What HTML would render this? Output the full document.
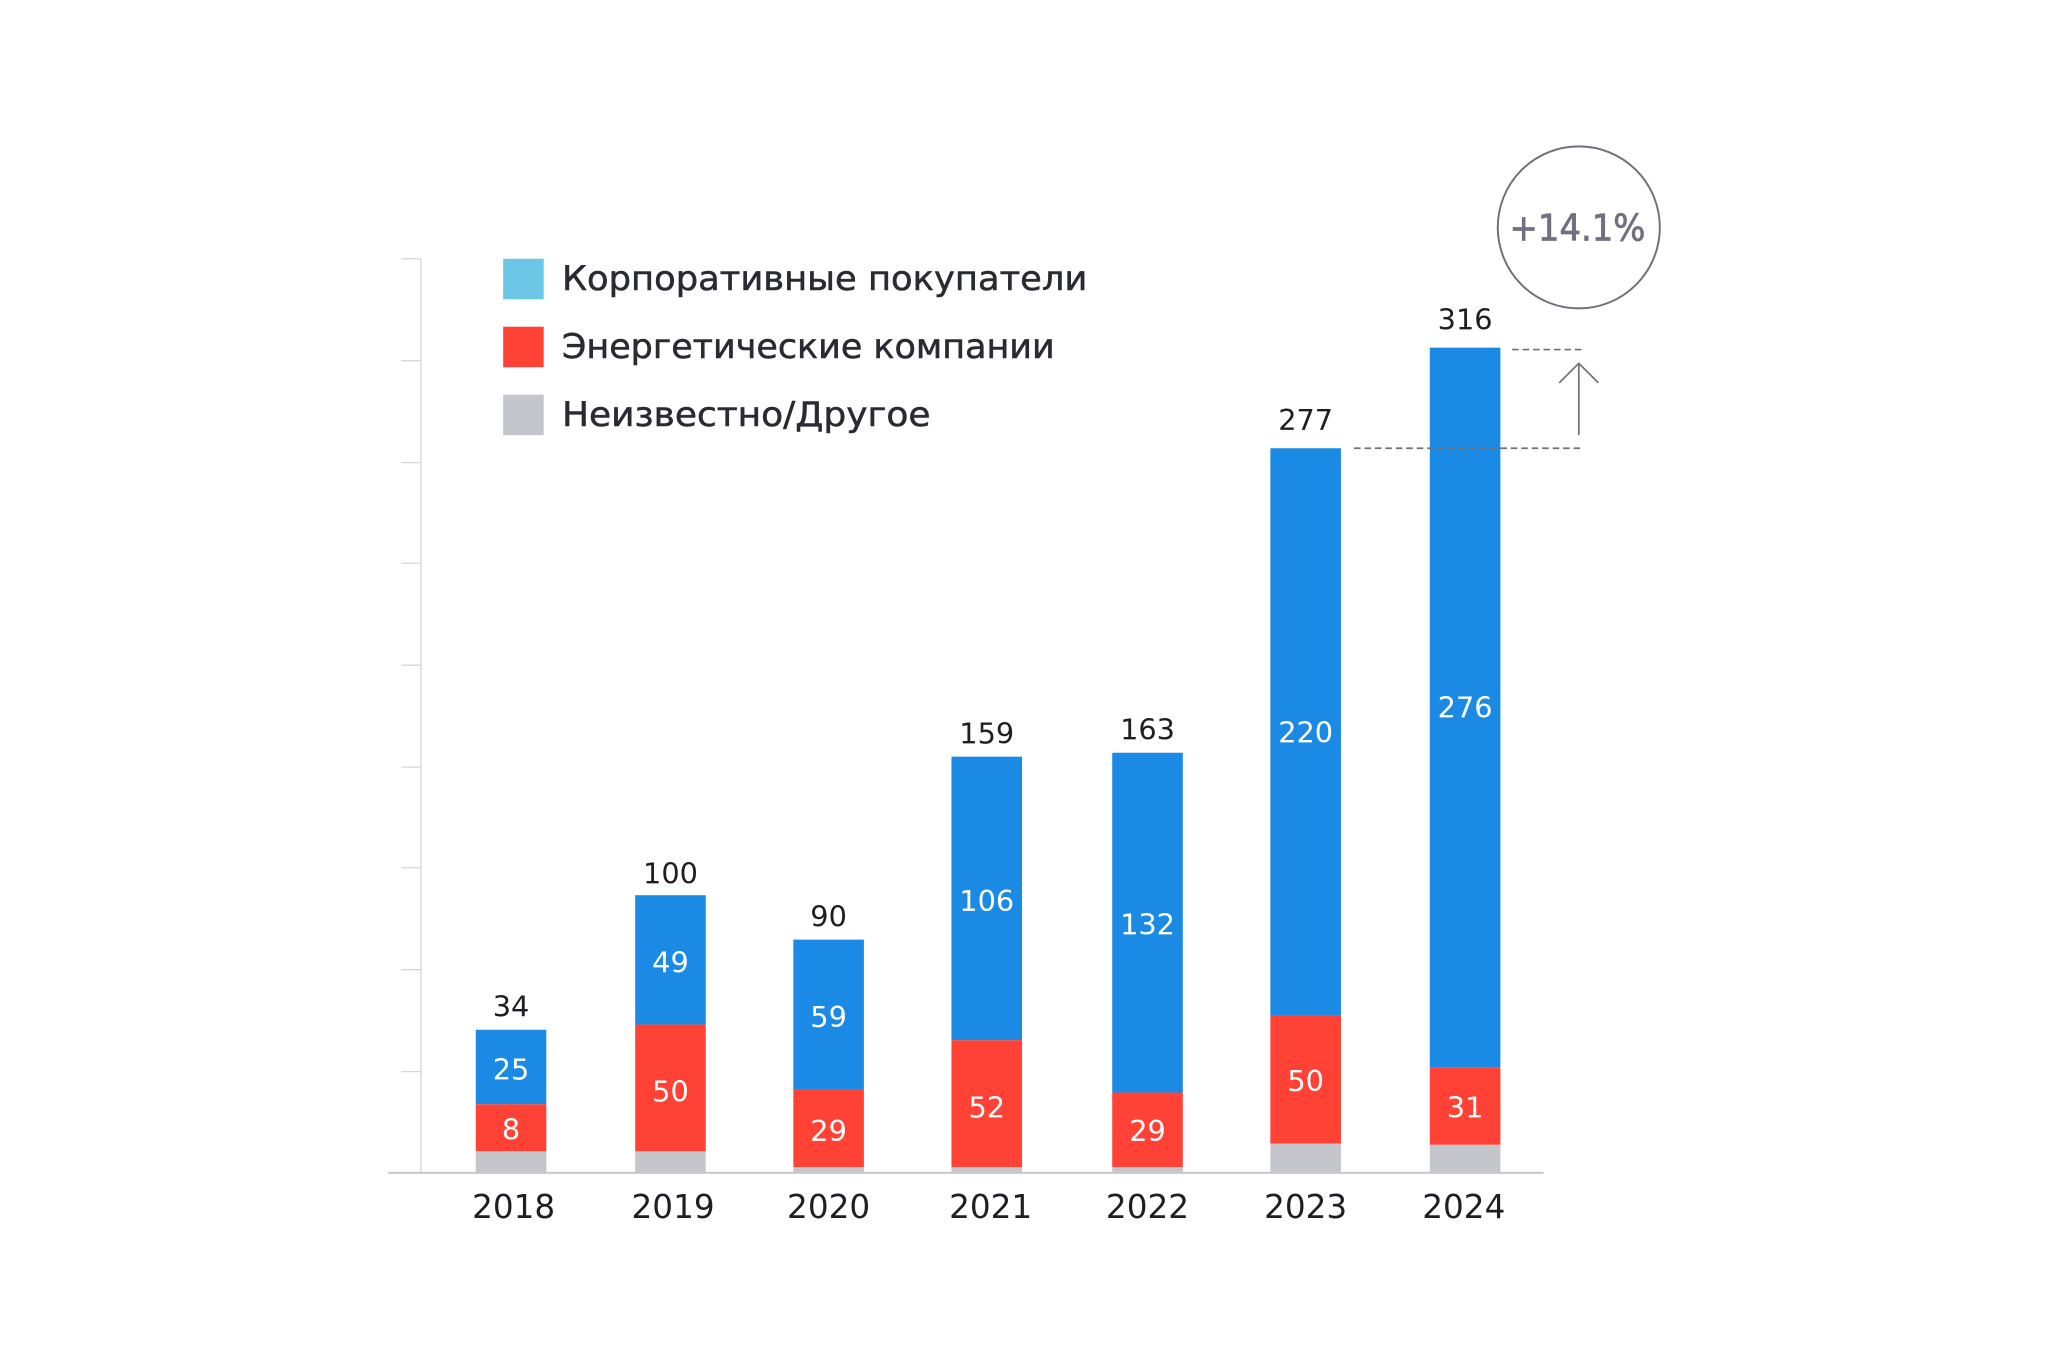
<!DOCTYPE html>
<html><head><meta charset="utf-8"><style>html,body{margin:0;padding:0;background:#fff}svg{display:block}</style></head>
<body>
<svg width="2048" height="1365" viewBox="0 0 1567 1044.5" preserveAspectRatio="none" xmlns="http://www.w3.org/2000/svg" font-family="'DejaVu Sans','Liberation Sans',sans-serif">
<rect width="1567" height="1045" fill="#fff"/>
<g stroke="#d6d6da" stroke-width="1">
<line x1="322" y1="198" x2="322" y2="897"/>
<line x1="307" y1="198" x2="322" y2="198"/><line x1="307" y1="276" x2="322" y2="276"/>
<line x1="307" y1="354" x2="322" y2="354"/><line x1="307" y1="431" x2="322" y2="431"/>
<line x1="307" y1="509" x2="322" y2="509"/><line x1="307" y1="587" x2="322" y2="587"/>
<line x1="307" y1="664" x2="322" y2="664"/><line x1="307" y1="742" x2="322" y2="742"/>
<line x1="307" y1="820" x2="322" y2="820"/>
</g>
<line x1="297" y1="897.5" x2="1181" y2="897.5" stroke="#c8c8cc" stroke-width="1.5"/>
<g>
<rect x="364" y="788" width="54" height="57" fill="#1a8ae4"/><rect x="364" y="845" width="54" height="36" fill="#ff4136"/><rect x="364" y="881" width="54" height="16" fill="#c5c5cc"/>
<rect x="486" y="685" width="54" height="99" fill="#1a8ae4"/><rect x="486" y="784" width="54" height="97" fill="#ff4136"/><rect x="486" y="881" width="54" height="16" fill="#c5c5cc"/>
<rect x="607" y="719" width="54" height="115" fill="#1a8ae4"/><rect x="607" y="834" width="54" height="59" fill="#ff4136"/><rect x="607" y="893" width="54" height="4" fill="#c5c5cc"/>
<rect x="728" y="579" width="54" height="217" fill="#1a8ae4"/><rect x="728" y="796" width="54" height="97" fill="#ff4136"/><rect x="728" y="893" width="54" height="4" fill="#c5c5cc"/>
<rect x="851" y="576" width="54" height="260" fill="#1a8ae4"/><rect x="851" y="836" width="54" height="57" fill="#ff4136"/><rect x="851" y="893" width="54" height="4" fill="#c5c5cc"/>
<rect x="972" y="343" width="54" height="434" fill="#1a8ae4"/><rect x="972" y="777" width="54" height="98" fill="#ff4136"/><rect x="972" y="875" width="54" height="22" fill="#c5c5cc"/>
<rect x="1094" y="266" width="54" height="551" fill="#1a8ae4"/><rect x="1094" y="817" width="54" height="59" fill="#ff4136"/><rect x="1094" y="876" width="54" height="21" fill="#c5c5cc"/>
</g>
<g font-size="22" fill="#fff" text-anchor="middle">
<text x="391" y="826">25</text><text x="391" y="872">8</text>
<text x="513" y="744">49</text><text x="513" y="843">50</text>
<text x="634" y="786">59</text><text x="634" y="873">29</text>
<text x="755" y="697">106</text><text x="755" y="855">52</text>
<text x="878" y="715">132</text><text x="878" y="873">29</text>
<text x="999" y="568">220</text><text x="999" y="835">50</text>
<text x="1121" y="549">276</text><text x="1121" y="855">31</text>
</g>
<g font-size="22" fill="#1e1e24" text-anchor="middle">
<text x="391" y="778">34</text><text x="513" y="676">100</text><text x="634" y="709">90</text>
<text x="755" y="569">159</text><text x="878" y="566">163</text><text x="999" y="329">277</text><text x="1121" y="252">316</text>
</g>
<g font-size="25" fill="#1e1e24" text-anchor="middle">
<text x="393" y="932">2018</text><text x="515" y="932">2019</text><text x="634" y="932">2020</text>
<text x="758" y="932">2021</text><text x="878" y="932">2022</text><text x="999" y="932">2023</text><text x="1120" y="932">2024</text>
</g>
<rect x="385" y="198" width="31" height="31" fill="#6cc6e6"/>
<rect x="385" y="250" width="31" height="31" fill="#ff4136"/>
<rect x="385" y="302" width="31" height="31" fill="#c5c5cc"/>
<g font-size="26" fill="#2a2a32" stroke="#2a2a32" stroke-width="0.4">
<text x="430" y="222" textLength="402" lengthAdjust="spacingAndGlyphs">Корпоративные покупатели</text>
<text x="430" y="274" textLength="377" lengthAdjust="spacingAndGlyphs">Энергетические компании</text>
<text x="430" y="326" textLength="282" lengthAdjust="spacingAndGlyphs">Неизвестно/Другое</text>
</g>
<circle cx="1208" cy="174" r="62" fill="none" stroke="#707078" stroke-width="1.5"/>
<text x="1207" y="184" font-size="28" fill="#707080" stroke="#707080" stroke-width="0.6" text-anchor="middle" textLength="104" lengthAdjust="spacingAndGlyphs">+14.1%</text>
<g stroke="#707078" stroke-width="1.3" fill="none">
<line x1="1157" y1="267.5" x2="1210" y2="267.5" stroke-dasharray="5,3"/>
<line x1="1036" y1="343" x2="1210" y2="343" stroke-dasharray="5,3"/>
<line x1="1208" y1="333" x2="1208" y2="279"/>
<polyline points="1193,293 1208,278 1223,293"/>
</g>
</svg>
</body></html>
